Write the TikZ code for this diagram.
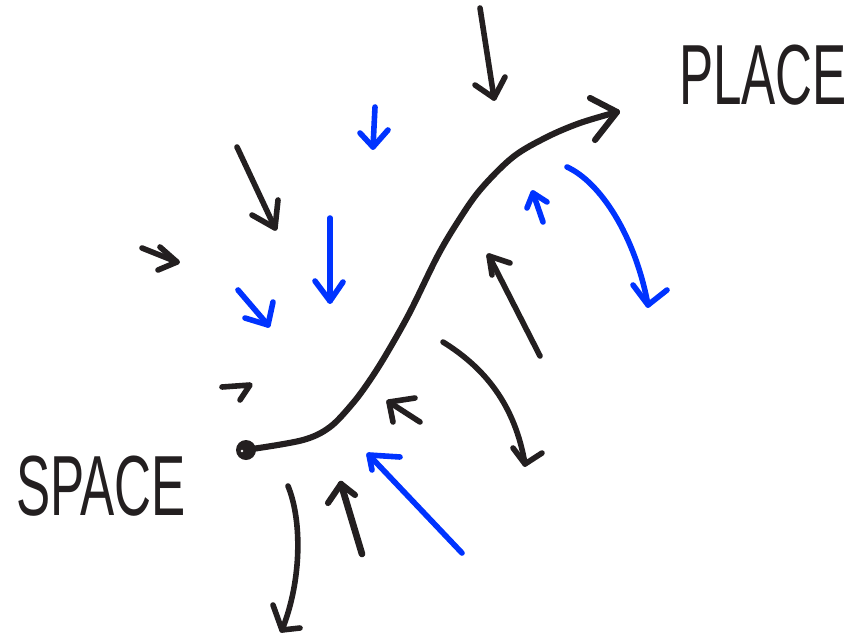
\documentclass[tikz,border=0pt]{standalone}
\usepackage{fontspec}
\setmainfont{Liberation Sans}
\definecolor{inkk}{HTML}{231F20}
\definecolor{inkb}{HTML}{0033FF}
\begin{document}
\begin{tikzpicture}[x=0.75pt,y=-0.75pt,
  stroke/.style={line width=4.2pt,line cap=round,line join=round},
  bk/.style={stroke,draw=inkk},
  bl/.style={stroke,draw=inkb},
  lbl/.style={inner sep=0pt,anchor=base,text=inkk,font=\fontsize{64}{64}\selectfont}]
\useasboundingbox (0,0) rectangle (856,636);
% labels
\node[lbl] (space) at (101,515) {\scalebox{0.6}[1]{SPACE}};
\node[lbl] (place) at (763,104) {\scalebox{0.6}[1]{PLACE}};
% main path
\fill[inkk] (246,450) circle (7.5pt);
\fill[white] (242,451) circle (1pt);
\draw[bk,line width=4.6pt] plot[smooth,tension=0.55] coordinates {(252,449) (303,440) (330,427) (353,403) (370,380) (387,353) (410,312) (437,257) (457,223) (480,190) (513,157) (547,137) (580,123) (617,112)};
\draw[bk,line width=4.6pt] (590,98) -- (617,112) -- (595,140);
% 1 top black
\draw[bk] (480,8) -- (494,98); \draw[bk] (475,85) -- (494,98) -- (505,77);
% 2 blue small top
\draw[bl] (375,107) -- (373,147); \draw[bl] (360,133) -- (373,147) -- (388,130);
% 3 black diagonal
\draw[bk] (237,147) -- (275,228); \draw[bk] (252,215) -- (275,228) -- (278,200);
% 4 small black left
\draw[bk] (142,248) -- (177,262); \draw[bk] (160,247) -- (177,262) -- (158,270);
% 5 blue long down
\draw[bl] (330,218) -- (330,301); \draw[bl] (315,281) -- (330,301) -- (343,282);
% 6 blue diagonal
\draw[bl] (238,290) -- (268,325); \draw[bl] (245,318) -- (268,325) -- (273,302);
% 7 small black near dot
\draw[bk] (222,387) -- (250,385) -- (240,400);
% 8 black curved down
\draw[bk] (288,486) .. controls (302,520) and (302,580) .. (282,630);
\draw[bk] (273,605) -- (282,630) -- (300,628);
% 9 black thick up
\draw[bk,line width=5pt] (362,554) -- (341,484); \draw[bk,line width=4.6pt] (328,503) -- (341,484) -- (355,495);
% 10 blue long diagonal
\draw[bl] (462,553) -- (369,455); \draw[bl] (372,470) -- (369,455) -- (400,457);
% 11 small black
\draw[bk] (420,422) -- (389,402); \draw[bk] (393,422) -- (389,402) -- (415,398);
% 12 black curved
\draw[bk] (443,342) .. controls (485,368) and (515,405) .. (525,464);
\draw[bk] (513,448) -- (525,464) -- (542,453);
% 13 black up-left
\draw[bk] (540,356) -- (489,256); \draw[bk] (492,275) -- (489,256) -- (510,263);
% 14 blue small
\draw[bl] (543,222) -- (533,193); \draw[bl] (527,208) -- (533,193) -- (547,202);
% 15 blue curved
\draw[bl] (567,167) .. controls (600,182) and (635,235) .. (648,305);
\draw[bl] (633,285) -- (648,305) -- (667,290);
\end{tikzpicture}
\end{document}
